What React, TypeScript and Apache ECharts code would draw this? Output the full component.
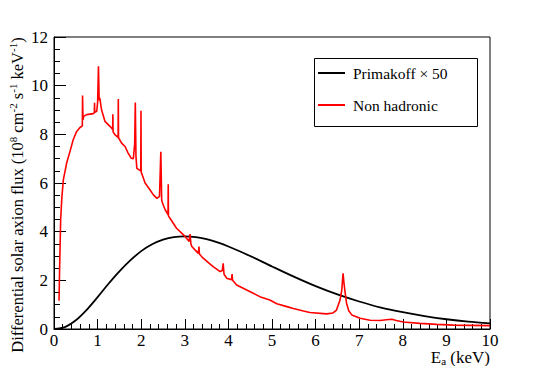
import React, { useEffect, useRef } from "react";
import * as echarts from "echarts";

const FONT = "Liberation Serif";

const xTicks = [0, 1, 2, 3, 4, 5, 6, 7, 8, 9, 10];
const yTicks = [0, 2, 4, 6, 8, 10, 12];

const primakoffLabel = "Primakoff × 50";
const nonHadronicLabel = "Non hadronic";

const energyPrimakoff = [0, 0.25, 0.5, 0.75, 1, 1.25, 1.5, 1.75, 2, 2.25, 2.5, 2.75, 3, 3.25, 3.5, 3.75, 4, 4.5, 5, 5.5, 6, 6.5, 7, 7.5, 8, 8.5, 9, 9.5, 10];
const fluxPrimakoff = [0, 0.08, 0.36, 0.79, 1.31, 1.86, 2.37, 2.82, 3.2, 3.48, 3.67, 3.78, 3.81, 3.78, 3.69, 3.56, 3.39, 3.0, 2.57, 2.15, 1.76, 1.42, 1.13, 0.88, 0.69, 0.53, 0.4, 0.3, 0.23];

const energyNonHadronic = [
  0.115, 0.13, 0.153, 0.18, 0.214, 0.29, 0.367, 0.44, 0.52, 0.596, 0.65, 0.655, 0.665, 0.68, 0.75, 0.9, 0.925, 0.93, 0.935, 0.98,
  1.0, 1.02, 1.035, 1.05, 1.09, 1.17, 1.25, 1.32, 1.345, 1.35, 1.355, 1.4, 1.47, 1.475, 1.48, 1.55, 1.63, 1.7, 1.77, 1.82,
  1.85, 1.865, 1.88, 1.9, 1.99, 1.995, 2.0, 2.09, 2.2, 2.28, 2.36, 2.42, 2.45, 2.47, 2.49, 2.55, 2.615, 2.62, 2.625, 2.66,
  2.81, 2.97, 3.04, 3.1, 3.12, 3.14, 3.16, 3.31, 3.325, 3.335, 3.42, 3.65, 3.81, 3.86, 3.88, 3.9, 3.96, 4.07, 4.085, 4.095,
  4.19, 4.57, 4.72, 4.95, 5.11, 5.34, 5.49, 5.72, 5.87, 6.25, 6.4, 6.48, 6.56, 6.6, 6.63, 6.65, 6.67, 6.71, 6.76, 6.83,
  7.02, 7.25, 7.48, 7.62, 7.75, 7.85, 8.01, 8.39, 8.78, 9.16, 9.54, 10.0,
];
const fluxNonHadronic = [
  1.16, 2.6, 4.49, 5.4, 6.13, 6.82, 7.3, 7.78, 8.12, 8.28, 8.35, 9.6, 8.6, 8.74, 8.81, 8.85, 8.88, 9.3, 8.9, 8.95,
  9.3, 10.8, 9.4, 9.5, 9.01, 8.53, 8.39, 8.26, 8.2, 8.83, 8.1, 7.98, 7.88, 9.45, 7.86, 7.64, 7.5, 7.23, 7.02, 7.0,
  7.6, 9.31, 7.1, 6.6, 6.5, 8.97, 6.45, 6.0, 5.72, 5.51, 5.37, 5.45, 7.28, 5.3, 5.17, 4.9, 4.7, 5.95, 4.65, 4.55,
  4.14, 3.87, 3.73, 3.6, 3.9, 3.5, 3.39, 3.11, 3.39, 3.08, 2.91, 2.56, 2.36, 2.4, 2.7, 2.25, 2.09, 2.02, 2.26, 2.0,
  1.81, 1.47, 1.33, 1.19, 1.04, 0.92, 0.84, 0.74, 0.68, 0.62, 0.66, 0.78, 1.19, 1.6, 2.29, 1.9, 1.6, 1.06, 0.75, 0.58,
  0.44, 0.36, 0.35, 0.38, 0.4, 0.35, 0.29, 0.23, 0.19, 0.16, 0.15, 0.14,
];

export default function App() {
  const ref = useRef<HTMLDivElement>(null);

  useEffect(() => {
    if (!ref.current) return;
    const chart = echarts.init(ref.current, undefined, { renderer: "svg" });

    const primakoff = energyPrimakoff.map((e, i) => [e, fluxPrimakoff[i]]);
    const nonHadronic = energyNonHadronic.map((e, i) => [e, fluxNonHadronic[i]]);

    const titleStyle = { fontSize: 16.5, fontFamily: FONT, color: "#000", lineHeight: 20 };
    const supStyle = { fontSize: 11, fontFamily: FONT, color: "#000", verticalAlign: "top" as const, lineHeight: 20 };

    chart.setOption({
      animation: false,
      backgroundColor: "#fff",
      grid: {
        left: 54,
        right: 55,
        top: 37,
        bottom: 37,
        show: true,
        borderColor: "#000",
        borderWidth: 1,
        backgroundColor: "transparent",
      },
      xAxis: {
        type: "value",
        min: xTicks[0],
        max: xTicks[xTicks.length - 1],
        interval: 1,
        axisLine: { show: true, lineStyle: { color: "#000", width: 1 } },
        axisTick: { show: true, inside: true, length: 10, lineStyle: { color: "#000" } },
        minorTick: { show: true, splitNumber: 5, length: 5, lineStyle: { color: "#000" } },
        splitLine: { show: false },
        axisLabel: { color: "#000", fontSize: 17, fontFamily: FONT, margin: 4, lineHeight: 14 },
      },
      yAxis: {
        type: "value",
        min: yTicks[0],
        max: yTicks[yTicks.length - 1],
        interval: 2,
        axisLine: { show: true, lineStyle: { color: "#000", width: 1 } },
        axisTick: { show: true, inside: true, length: 12, lineStyle: { color: "#000" } },
        minorTick: { show: true, splitNumber: 4, length: 6, lineStyle: { color: "#000" } },
        splitLine: { show: false },
        axisLabel: { color: "#000", fontSize: 17, fontFamily: FONT, margin: 6 },
      },
      legend: {
        orient: "vertical",
        left: 318,
        top: 65,
        icon: "rect",
        itemWidth: 27,
        itemHeight: 2,
        itemGap: 16,
        padding: 0,
        textStyle: { color: "#000", fontSize: 15.5, fontFamily: FONT, padding: [0, 0, 0, 3] },
        data: [primakoffLabel, nonHadronicLabel],
      },
      graphic: [
        {
          type: "rect",
          left: 312,
          top: 56,
          shape: { width: 163, height: 68 },
          style: { fill: "none", stroke: "#000", lineWidth: 1 },
          z: 10,
        },
        {
          type: "text",
          x: 17,
          y: 195,
          rotation: Math.PI / 2,
          style: {
            text: "{n|Differential solar axion flux (10}{s|8}{n| cm}{s|-2}{n| s}{s|-1}{n| keV}{s|-1}{n|)}",
            rich: { n: titleStyle, s: supStyle },
            align: "center",
            verticalAlign: "middle",
          },
        },
        {
          type: "text",
          right: 55,
          top: 349,
          style: {
            text: "{n|E}{b|a}{n| (keV)}",
            rich: {
              n: { fontSize: 17, fontFamily: FONT, color: "#000", lineHeight: 17 },
              b: { fontSize: 11, fontFamily: FONT, color: "#000", verticalAlign: "bottom", lineHeight: 17 },
            },
          },
        },
      ],
      series: [
        {
          name: primakoffLabel,
          type: "line",
          data: primakoff,
          symbol: "none",
          smooth: 0.3,
          lineStyle: { color: "#000", width: 1.8 },
          itemStyle: { color: "#000" },
          z: 2,
        },
        {
          name: nonHadronicLabel,
          type: "line",
          data: nonHadronic,
          symbol: "none",
          lineStyle: { color: "#ff0000", width: 1.6 },
          itemStyle: { color: "#ff0000" },
          z: 3,
        },
      ],
    });

    return () => chart.dispose();
  }, []);

  return <div ref={ref} style={{ width: 545, height: 366, position: "absolute", left: 0, top: 0 }} />;
}
